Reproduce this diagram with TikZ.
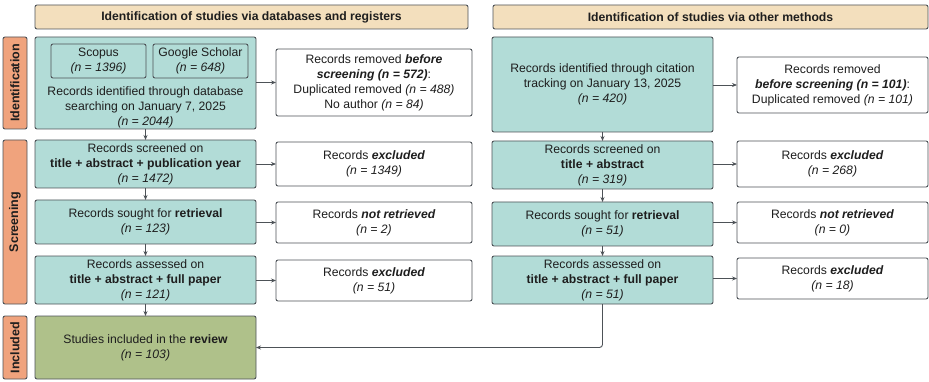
\documentclass[tikz,border=0pt]{standalone}
\usepackage{fontspec}
\setmainfont{Liberation Sans}
\usetikzlibrary{arrows.meta}
\definecolor{edge}{HTML}{4D5257}
\definecolor{tealf}{HTML}{B2DCD7}
\definecolor{headf}{HTML}{F3DFBD}
\definecolor{sidef}{HTML}{F0A37D}
\definecolor{incf}{HTML}{AFC18A}
\definecolor{arrc}{HTML}{4D5257}
\definecolor{txtc}{HTML}{1E1E1E}
\begin{document}
\begin{tikzpicture}[x=1pt,y=-1pt,
  font=\fontsize{12.2}{15}\selectfont, text=txtc,
  corners/.style n args={4}{minimum width={(#3-#1)*1pt}, minimum height={(#4-#2)*1pt}, at={({(#1+#3)/2},{(#2+#4)/2})}},
  base/.style={draw=edge, line width=0.9pt, rounded corners=2pt, align=center, inner sep=0pt, outer sep=0pt},
  tealbox/.style={base, fill=tealf},
  whitebox/.style={base, fill=white},
  headbox/.style={base, fill=headf, font=\fontsize{12.2}{14}\selectfont\bfseries},
  sidebox/.style={base, fill=sidef, rotate=90, font=\fontsize{12.5}{14}\selectfont\bfseries},
  incbox/.style={base, fill=incf},
  txt/.style={align=center, inner sep=0pt},
  arr/.style={draw=arrc, line width=0.9pt, -{Stealth[length=5pt,width=4pt]}}
]
\useasboundingbox (0,0) rectangle (929,382);

% headers
\node[headbox, corners={35}{5}{468}{29}] (h1) {Identification of studies via databases and registers};
\node[headbox, corners={493}{5}{928}{29}] (h2) {Identification of studies via other methods};

% side labels
\node[sidebox, minimum width=92pt, minimum height=24pt] (s1) at (15,83) {Identification};
\node[sidebox, minimum width=164pt, minimum height=24pt] (s2) at (15,222) {Screening};
\node[sidebox, minimum width=63pt, minimum height=24pt] (s3) at (15,347.5) {Included};

% left column
\node[tealbox, corners={35}{37}{256}{129}] (idL) {};
\node[tealbox, corners={51}{44}{146}{78}] (scop) {Scopus\\\textit{(n = 1396)}};
\node[tealbox, corners={153}{44}{248}{78}] (gs) {Google Scholar\\\textit{(n = 648)}};
\node[txt] (idLt) at (145.5,107.5) {Records identified through database\\searching on January 7, 2025\\\textit{(n = 2044)}};

\node[whitebox, corners={276}{49}{472}{116}] (remL) {Records removed \textbf{\textit{before}}\\\textbf{\textit{screening (n = 572)}}:\\Duplicated removed \textit{(n = 488)}\\No author \textit{(n = 84)}};

\node[tealbox, corners={35}{140}{256}{188}] (scrL) {Records screened on\\\textbf{title + abstract + publication year}\\\textit{(n = 1472)}};
\node[whitebox, corners={276}{142}{472}{186}] (excL) {Records \textbf{\textit{excluded}}\\\textit{(n = 1349)}};

\node[tealbox, corners={35}{200}{256}{244}] (souL) {Records sought for \textbf{retrieval}\\\textit{(n = 123)}};
\node[whitebox, corners={276}{202}{472}{243}] (nrL) {Records \textbf{\textit{not retrieved}}\\\textit{(n = 2)}};

\node[tealbox, corners={35}{256}{256}{304}] (assL) {Records assessed on\\\textbf{title + abstract + full paper}\\\textit{(n = 121)}};
\node[whitebox, corners={276}{260}{472}{301}] (ex2L) {Records \textbf{\textit{excluded}}\\\textit{(n = 51)}};

\node[incbox, corners={35}{316}{256}{379}] (inc) {Studies included in the \textbf{review}\\\textit{(n = 103)}};

% right column
\node[tealbox, corners={492}{37}{713}{132}] (idR) {Records identified through citation\\tracking on January 13, 2025\\\textit{(n = 420)}};
\node[whitebox, corners={737}{57}{928}{113}] (remR) {Records removed\\\textbf{\textit{before screening (n = 101)}}:\\Duplicated removed \textit{(n = 101)}};

\node[tealbox, corners={492}{141}{713}{189}] (scrR) {Records screened on\\\textbf{title + abstract}\\\textit{(n = 319)}};
\node[whitebox, corners={737}{141}{928}{187}] (excR) {Records \textbf{\textit{excluded}}\\\textit{(n = 268)}};

\node[tealbox, corners={492}{202}{713}{246}] (souR) {Records sought for \textbf{retrieval}\\\textit{(n = 51)}};
\node[whitebox, corners={737}{202}{928}{243}] (nrR) {Records \textbf{\textit{not retrieved}}\\\textit{(n = 0)}};

\node[tealbox, corners={492}{256}{713}{304}] (assR) {Records assessed on\\\textbf{title + abstract + full paper}\\\textit{(n = 51)}};
\node[whitebox, corners={737}{258}{928}{299}] (ex2R) {Records \textbf{\textit{excluded}}\\\textit{(n = 18)}};

% arrows left
\draw[arr] (idL.south) -- (scrL.north);
\draw[arr] (scrL.south) -- (souL.north);
\draw[arr] (souL.south) -- (assL.north);
\draw[arr] (assL.south) -- (inc.north);
\draw[arr] (idL.east |- remL.west) -- (remL.west);
\draw[arr] (scrL.east |- excL.west) -- (excL.west);
\draw[arr] (souL.east |- nrL.west) -- (nrL.west);
\draw[arr] (assL.east |- ex2L.west) -- (ex2L.west);

% arrows right
\draw[arr] (idR.south) -- (scrR.north);
\draw[arr] (scrR.south) -- (souR.north);
\draw[arr] (souR.south) -- (assR.north);
\draw[arr] (idR.east |- remR.west) -- (remR.west);
\draw[arr] (scrR.east |- excR.west) -- (excR.west);
\draw[arr] (souR.east |- nrR.west) -- (nrR.west);
\draw[arr] (assR.east |- ex2R.west) -- (ex2R.west);
\draw[arr, rounded corners=3pt] (assR.south) |- (inc.east);
\end{tikzpicture}
\end{document}
